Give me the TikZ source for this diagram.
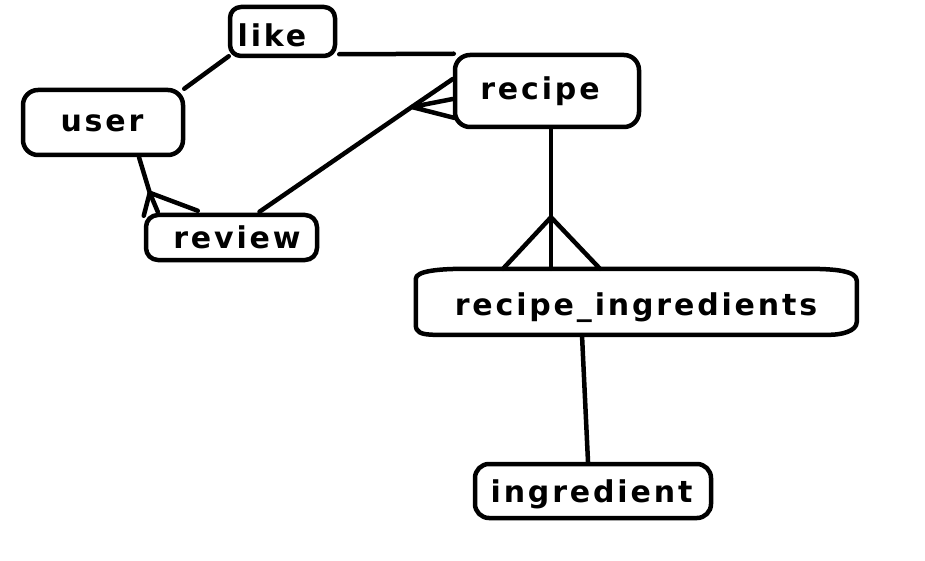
\documentclass[tikz,border=0pt]{standalone}
\usepackage{fontspec}
\newfontfamily\lblfont{DejaVu Sans}[LetterSpace=9.5]
\usetikzlibrary{calc}
\begin{document}
\begin{tikzpicture}[x=1pt,y=-1pt,
  lw/.style={line width=4.5pt, line cap=round, line join=round},
  box/.style={draw, lw, rounded corners=13pt, inner sep=0pt},
  txt/.style={font=\lblfont\bfseries\fontsize{30pt}{32pt}\selectfont, inner sep=0pt, anchor=base}]
\useasboundingbox[fill=white] (0,0) rectangle (925,561);
% entities
\node[box, minimum width=105pt, minimum height=49pt, rounded corners=11pt] (like) at (282.5,31.5) {};
\node[txt] (liket) at (272,47) {like};
\node[box, minimum width=160pt, minimum height=65pt, rounded corners=15pt] (user) at (103,122.5) {};
\node[txt] (usert) at (102,132) {user};
\node[box, minimum width=184pt, minimum height=72pt, rounded corners=15pt] (recipe) at (547,91) {};
\node[txt] (recipet) at (540,100) {recipe};
\node[box, minimum width=171pt, minimum height=45pt, rounded corners=12pt] (review) at (231.5,237.5) {};
\node[txt] (reviewt) at (237,248) {review};
\node[minimum width=441pt, minimum height=66pt, inner sep=0pt] (ri) at (636.5,302) {};
\node[txt] (rit) at (636,315) {recipe\_ingredients};
\draw[lw, shift={(ri.north west)}]
  (0,10) .. controls (0,2) and (24,0) .. (50,0) -- (390,0)
  .. controls (420,0) and (441,2) .. (441,12) -- (441,53)
  .. controls (441,63) and (424,66) .. (414,66) -- (20,66)
  .. controls (4,66) and (0,63) .. (0,56) -- cycle;
\node[box, minimum width=236pt, minimum height=54pt, rounded corners=14pt] (ingr) at (593,491) {};
\node[txt] (ingrt) at (591.5,502) {ingredient};
% relationships
\draw[lw] ($(like.south west)+(1,-2)$) -- ($(user.north east)+(-1,1)$);
\draw[lw] ($(like.south east)+(2,-4)$) -- ($(recipe.north west)+(1,1)$);
% review -- recipe (many at recipe)
\coordinate (v1) at ($(recipe.west)+(-41,16)$);
\draw[lw] ($(review.north)+(28,-1)$) -- (v1) -- ($(recipe.west)+(0,-12)$);
\draw[lw] ($(recipe.west)+(0,8)$) -- (v1) -- ($(recipe.west)+(2,27)$);
% user -- review (many at review)
\coordinate (v2) at ($(review.north west)+(6,-20)$);
\draw[lw] ($(user.south)+(36,0)$) -- (v2) -- ($(review.north west)+(14,-1)$);
\draw[lw] ($(review.north west)+(0,3)$) -- (v2) -- ($(review.north west)+(54,-2)$);
% recipe -- recipe_ingredients (many at recipe_ingredients)
\coordinate (a) at ($(recipe.south)+(4,0)$);
\coordinate (v3) at ($(a)+(0,88)$);
\draw[lw] (a) -- (a |- ri.north);
\draw[lw] ($(ri.north)+(-133.5,0)$) -- (v3) -- ($(ri.north)+(-36.5,0)$);
% recipe_ingredients -- ingredient
\draw[lw] ($(ri.south)+(-54.5,0)$) -- ($(ingr.north)+(-5,0)$);
\end{tikzpicture}
\end{document}
